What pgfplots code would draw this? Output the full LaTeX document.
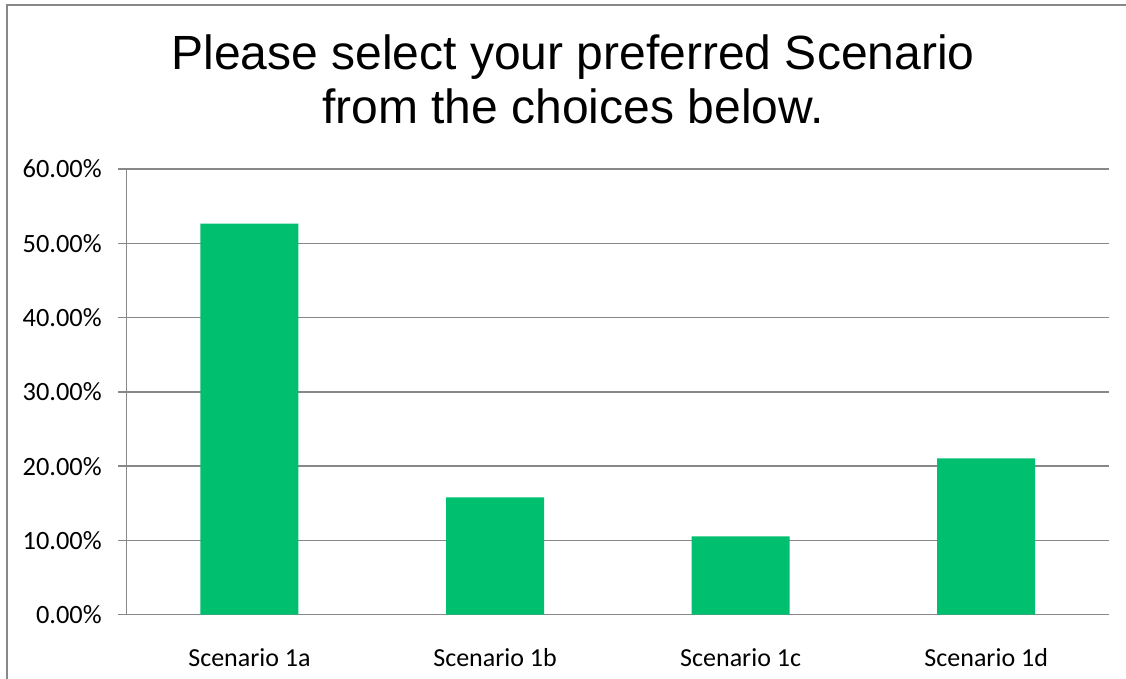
\documentclass[border=0pt]{standalone}
\usepackage{fontspec}
\setmainfont{Carlito}
\newfontfamily\arialfont{Liberation Sans}
\usepackage{pgfplots}
\pgfplotsset{compat=1.18}
\definecolor{bargreen}{RGB}{0,191,111}
\definecolor{gridgray}{RGB}{136,136,136}
\begin{document}
\begin{tikzpicture}
\useasboundingbox (0,0) rectangle (563pt,339.5pt);
\draw[gridgray, line width=1pt] (3.5pt,-20pt) -- (3.5pt,337pt) -- (600pt,337pt);
\node[anchor=base, font=\arialfont\fontsize{24}{28}\selectfont] at (286.5pt,304.5pt) {Please select your preferred Scenario};
\node[anchor=base, font=\arialfont\fontsize{24}{28}\selectfont] at (286.5pt,277.8pt) {from the choices below.};
\begin{axis}[
  at={(63.35pt,32.15pt)}, anchor=south west,
  scale only axis, width=491.15pt, height=222.85pt,
  xmin=-0.5, xmax=3.5, ymin=0, ymax=60,
  axis x line*=bottom, axis y line*=left,
  axis line style={gridgray, line width=0.75pt, -},
  ybar, bar width=49pt,
  xtick={0,1,2,3},
  xticklabels={Scenario 1a, Scenario 1b, Scenario 1c, Scenario 1d},
  major x tick style={draw=none},
  extra x ticks={-0.5,0.5,1.5,2.5,3.5},
  extra x tick labels={},
  extra x tick style={major tick length=4.3pt, tick style={gridgray, line width=0.75pt}, tick align=outside},
  ytick={0,10,20,30,40,50,60},
  yticklabels={0.00\%,10.00\%,20.00\%,30.00\%,40.00\%,50.00\%,60.00\%},
  ymajorgrids, grid style={gridgray, line width=0.75pt},
  tick align=outside, major tick length=4.3pt,
  tick style={gridgray, line width=0.75pt},
  yticklabel style={font=\fontsize{13.2}{15}\selectfont, anchor=east, inner sep=0pt, xshift=-8pt},
  xticklabel style={font=\fontsize{13}{15}\selectfont, anchor=base, inner sep=0pt, yshift=-21.5pt},
]
\addplot[fill=bargreen, draw=none] coordinates {(0,52.63) (1,15.79) (2,10.53) (3,21.05)};
\end{axis}
\end{tikzpicture}
\end{document}
